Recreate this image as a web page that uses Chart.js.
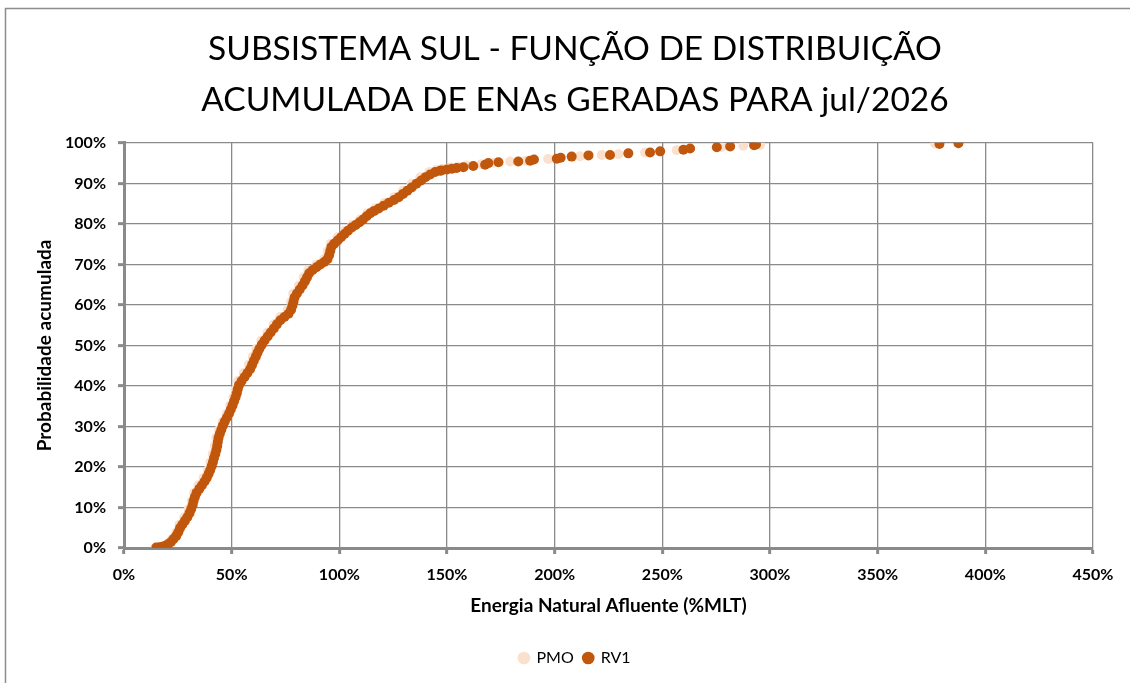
<!DOCTYPE html>
<html>
<head>
<meta charset="utf-8">
<script src="https://cdn.jsdelivr.net/npm/chart.js@4"></script>
<style>
  body { margin: 0; background: #fff; }
  #wrap { position: absolute; left: 0; top: 0; width: 1130px; height: 683px; }
</style>
</head>
<body>
<div id="wrap"><canvas id="cdfChart" width="1130" height="683"></canvas></div>
<script>
// tick labels (%MLT and probability)
const xTicks = [0, 50, 100, 150, 200, 250, 300, 350, 400, 450];
const yTicks = [0, 10, 20, 30, 40, 50, 60, 70, 80, 90, 100];

// RV1 - ENA (%MLT)
const rv1X = [15.0, 16.6, 17.8, 19.0, 20.4, 21.8, 23.0, 24.3, 25.2, 26.0,
  27.1, 28.3, 29.4, 30.4, 31.2, 31.9, 32.3, 32.9, 33.7, 35.0,
  36.2, 37.4, 38.4, 39.3, 40.0, 40.7, 41.3, 41.8, 42.4, 42.9,
  43.3, 43.6, 43.9, 44.5, 45.2, 45.9, 46.8, 47.8, 48.8, 49.6,
  50.4, 51.1, 51.8, 52.4, 52.8, 53.4, 54.6, 56.0, 57.3, 58.6,
  59.5, 60.3, 61.2, 62.0, 62.9, 64.0, 65.3, 66.7, 68.1, 69.6,
  71.0, 72.6, 74.5, 76.4, 77.6, 78.2, 78.7, 79.2, 80.3, 81.6,
  82.9, 84.0, 85.0, 86.0, 87.6, 89.4, 91.2, 93.0, 94.5, 95.3,
  95.8, 96.3, 97.6, 99.2, 100.8, 102.4, 104.0, 105.8, 107.6, 109.4,
  111.0, 112.7, 114.4, 116.2, 118.3, 120.6, 123.0, 125.4, 127.6, 129.6,
  131.6, 133.6, 135.8, 138.0, 140.0, 142.2, 144.5, 146.8, 147.5, 150.0,
  152.3, 154.5, 157.6, 162.2, 167.7, 169.2, 173.9, 183.1, 188.6, 190.4,
  201.0, 202.8, 207.9, 215.7, 225.7, 234.2, 244.3, 249.0, 259.8, 262.9,
  275.3, 281.5, 292.6, 293.5, 378.7, 387.5];
// RV1 - probabilidade acumulada (%)
const rv1Y = [0.1, 0.2, 0.3, 0.5, 0.9, 1.5, 2.2, 3.0, 3.9, 4.9,
  5.8, 6.7, 7.6, 8.6, 9.6, 10.6, 11.6, 12.6, 13.6, 14.6,
  15.5, 16.4, 17.3, 18.3, 19.2, 20.2, 21.2, 22.2, 23.2, 24.2,
  25.2, 26.2, 27.2, 28.2, 29.2, 30.2, 31.2, 32.2, 33.2, 34.2,
  35.2, 36.2, 37.2, 38.2, 39.2, 40.2, 41.2, 42.2, 43.2, 44.2,
  45.2, 46.2, 47.2, 48.2, 49.2, 50.2, 51.2, 52.2, 53.2, 54.2,
  55.2, 56.2, 57.0, 57.8, 58.8, 59.8, 60.8, 61.8, 62.8, 63.8,
  64.8, 65.8, 66.8, 67.8, 68.6, 69.3, 70.0, 70.6, 71.3, 72.3,
  73.3, 74.3, 75.1, 75.9, 76.7, 77.5, 78.3, 79.1, 79.7, 80.4,
  81.1, 81.9, 82.6, 83.2, 83.8, 84.5, 85.2, 85.9, 86.6, 87.4,
  88.2, 89.0, 89.9, 90.7, 91.5, 92.2, 92.8, 93.1, 93.2, 93.4,
  93.6, 93.8, 94.0, 94.3, 94.6, 95.0, 95.2, 95.4, 95.6, 95.9,
  96.1, 96.3, 96.6, 96.9, 97.0, 97.4, 97.6, 97.9, 98.3, 98.6,
  98.9, 99.1, 99.4, 99.6, 99.7, 99.9];

// PMO - ENA (%MLT)
const pmoX = [14.8, 17.5, 20.0, 22.4, 24.4, 25.8, 28.0, 30.0, 31.4, 32.6,
  34.6, 37.0, 38.9, 40.2, 41.2, 42.2, 42.9, 44.2, 45.8, 47.8,
  49.3, 50.8, 51.8, 53.0, 55.6, 58.0, 59.8, 61.5, 63.8, 66.6,
  69.6, 72.6, 76.0, 77.6, 78.6, 81.2, 83.4, 85.6, 89.4, 93.0,
  94.6, 96.0, 99.2, 102.6, 106.0, 109.6, 113.0, 116.6, 121.0, 125.6,
  129.6, 133.6, 137.6, 141.8, 145.0, 148.0, 151.5, 155.0, 159.0, 166.0,
  172.0, 179.3, 186.6, 197.0, 211.7, 221.9, 229.6, 242.0, 256.7, 277.6,
  287.6, 295.4, 376.7];
// PMO - probabilidade acumulada (%)
const pmoY = [0.1, 0.3, 0.9, 2.2, 3.9, 5.8, 7.6, 9.6, 11.6, 13.6,
  15.5, 17.3, 19.2, 21.2, 23.2, 25.2, 27.2, 29.2, 31.2, 33.2,
  35.2, 37.2, 39.2, 41.2, 43.2, 45.2, 47.2, 49.2, 51.2, 53.2,
  55.2, 57.0, 58.8, 60.8, 62.8, 64.8, 66.8, 68.6, 70.0, 71.3,
  73.3, 75.1, 76.7, 78.3, 79.7, 81.1, 82.6, 83.8, 85.2, 86.6,
  88.2, 89.9, 91.5, 92.8, 93.3, 93.6, 93.9, 94.1, 94.4, 94.7,
  95.1, 95.4, 95.6, 96.0, 96.7, 97.0, 97.2, 97.6, 98.2, 99.0,
  99.3, 99.5, 99.8];

const pmoColor = "#fbe0ce";
const rv1Color = "#c1570c";
const gridColor = "#8a8a8a";

function pairs(xs, ys) {
  return xs.map((x, i) => ({ x: x, y: ys[i] }));
}

// outer chart frame (only top/left edges fall inside the window)
const framePlugin = {
  id: "frame",
  beforeDraw(chart) {
    const ctx = chart.ctx;
    ctx.save();
    ctx.fillStyle = "#fff";
    ctx.fillRect(0, 0, chart.width, chart.height);
    ctx.strokeStyle = "#8c8c8c";
    ctx.lineWidth = 1.5;
    ctx.beginPath();
    ctx.moveTo(5.5, chart.height);
    ctx.lineTo(5.5, 8.5);
    ctx.lineTo(chart.width, 8.5);
    ctx.stroke();
    ctx.restore();
  },
};

const fontFamily = "Lato, 'Open Sans', sans-serif";

const cdfChart = new Chart(document.getElementById("cdfChart"), {
  type: "scatter",
  data: {
    datasets: [
      {
        label: "PMO",
        data: pairs(pmoX, pmoY),
        backgroundColor: pmoColor,
        borderColor: pmoColor,
        borderWidth: 0,
        pointRadius: 5,
        order: 1,
      },
      {
        label: "RV1",
        data: pairs(rv1X, rv1Y),
        backgroundColor: rv1Color,
        borderColor: rv1Color,
        borderWidth: 0,
        pointRadius: 5,
        order: 0,
      },
    ],
  },
  options: {
    responsive: false,
    animation: false,
    layout: { padding: { left: 20, right: 0, top: 0, bottom: 7 } },
    scales: {
      x: {
        type: "linear",
        min: 0,
        max: 450,
        afterBuildTicks: (scale) => {
          scale.ticks = xTicks.map((v) => ({ value: v }));
        },
        afterFit: (scale) => {
          scale.height = 92;
          scale.paddingRight = 37;
        },
        ticks: {
          callback: (v) => v + "%",
          color: "#000",
          padding: 11,
          maxRotation: 0,
          font: { family: fontFamily, size: 16, weight: "bold" },
        },
        grid: {
          color: gridColor,
          lineWidth: 1.3,
          tickLength: 6,
          tickWidth: 3,
          tickColor: gridColor,
        },
        border: { color: gridColor, width: 3 },
        title: {
          display: true,
          text: "Energia Natural Afluente (%MLT)",
          color: "#000",
          padding: { top: 0, bottom: 23 },
          font: { family: fontFamily, size: 19, weight: "bold" },
        },
      },
      y: {
        type: "linear",
        min: 0,
        max: 100,
        afterBuildTicks: (scale) => {
          scale.ticks = yTicks.map((v) => ({ value: v }));
        },
        afterFit: (scale) => {
          scale.width = 104;
        },
        ticks: {
          callback: (v) => v + "%",
          color: "#000",
          padding: 12,
          font: { family: fontFamily, size: 16, weight: "bold" },
        },
        grid: {
          color: gridColor,
          lineWidth: 1.3,
          tickLength: 6,
          tickWidth: 3,
          tickColor: gridColor,
        },
        border: { color: gridColor, width: 3 },
        title: {
          display: true,
          text: "Probabilidade acumulada",
          color: "#000",
          padding: { top: 13.5, bottom: 0 },
          font: { family: fontFamily, size: 19, weight: "bold" },
        },
      },
    },
    plugins: {
      title: {
        display: true,
        text: [
          "SUBSISTEMA SUL - FUNÇÃO DE DISTRIBUIÇÃO",
          "ACUMULADA DE ENAs GERADAS PARA jul/2026",
        ],
        color: "#000",
        padding: { top: 24, bottom: 17 },
        font: { family: fontFamily, size: 33.5, weight: "normal", lineHeight: 1.52 },
      },
      legend: {
        position: "bottom",
        labels: {
          usePointStyle: true,
          pointStyle: "circle",
          boxWidth: 9,
          boxHeight: 9,
          padding: 10,
          color: "#000",
          font: { family: fontFamily, size: 16 },
          sort: (a, b) => a.datasetIndex - b.datasetIndex,
        },
      },
      tooltip: { enabled: false },
    },
  },
  plugins: [framePlugin],
});
</script>
</body>
</html>
